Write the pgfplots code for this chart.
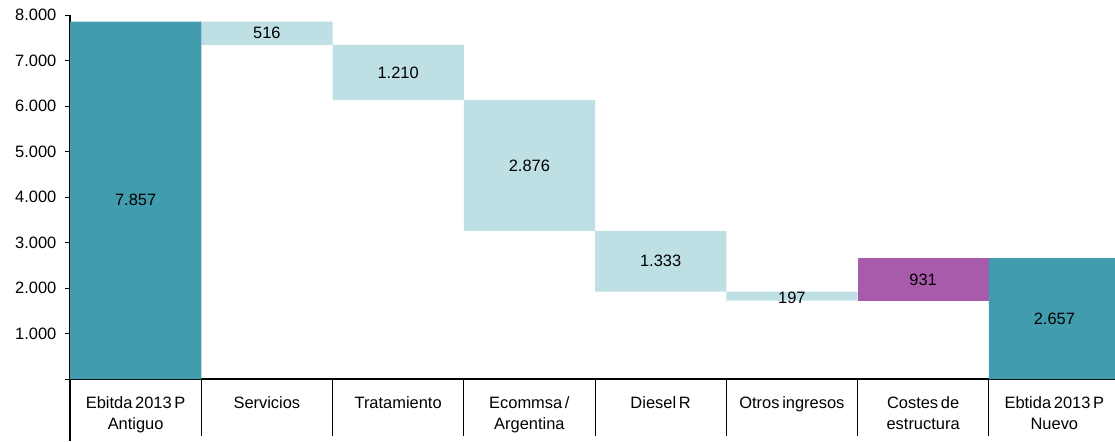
\documentclass[border=0pt]{standalone}
\usepackage{fontspec}
\setmainfont[WordSpace=0.6]{Liberation Sans}
\usepackage{pgfplots}
\pgfplotsset{compat=1.18}
\definecolor{dark}{HTML}{419DAE}
\definecolor{light}{HTML}{BEDFE3}
\definecolor{purp}{HTML}{A85BAA}
\begin{document}
\fontsize{16.5}{20}\selectfont
\begin{tikzpicture}
\begin{axis}[
  scale only axis, width=1050bp, height=364bp,
  xmin=0, xmax=8, ymin=0, ymax=8000,
  ybar stacked, bar width=1,
  axis lines*=left,
  axis line style={line width=1.3bp, black},
  clip=false,
  ytick={0,1000,...,8000},
  yticklabels={,1.000,2.000,3.000,4.000,5.000,6.000,7.000,8.000},
  tick align=outside,
  major tick length=5bp,
  ytick style={line width=0.9bp, black},
  yticklabel style={font=\fontsize{16.5}{20}\selectfont, xshift=-3bp},
  xtick={0.5,1.5,...,7.5},
  xtick style={draw=none},
  xticklabels={{Ebitda 2013 P\\Antiguo},Servicios,Tratamiento,{Ecommsa /\\Argentina},Diesel R,Otros ingresos,{Costes de\\estructura},{Ebtida 2013 P\\Nuevo}},
  xticklabel style={align=center, anchor=north, yshift=-7bp, font=\fontsize{16.5}{21}\selectfont},
]
\addplot[fill=none, draw=none] coordinates {(0.5,0)(1.5,7341)(2.5,6131)(3.5,3255)(4.5,1922)(5.5,1725)(6.5,1725)(7.5,0)};
\addplot[fill=dark, draw=none] coordinates {(0.5,7857)(1.5,0)(2.5,0)(3.5,0)(4.5,0)(5.5,0)(6.5,0)(7.5,2657)};
\addplot[fill=light, draw=none] coordinates {(0.5,0)(1.5,516)(2.5,1210)(3.5,2876)(4.5,1333)(5.5,197)(6.5,0)(7.5,0)};
\addplot[fill=purp, draw=none] coordinates {(0.5,0)(1.5,0)(2.5,0)(3.5,0)(4.5,0)(5.5,0)(6.5,931)(7.5,0)};
\coordinate (L1) at (axis cs:0.5,3928);
\coordinate (L2) at (axis cs:1.5,7599);
\coordinate (L3) at (axis cs:2.5,6736);
\coordinate (L4) at (axis cs:3.5,4693);
\coordinate (L5) at (axis cs:4.5,2588);
\coordinate (L6) at (axis cs:5.5,1780);
\coordinate (L7) at (axis cs:6.5,2190);
\coordinate (L8) at (axis cs:7.5,1328);
\pgfplotsinvokeforeach{1,...,7}{\draw[line width=0.9bp] (axis cs:#1,0) -- ++(0,-57bp);}
\draw[line width=1.3bp] (axis cs:0,0) -- ++(0,-62bp);
\coordinate (O) at (rel axis cs:0,0);
\coordinate (T) at (rel axis cs:1,1);
\end{axis}
\node at (L1) {7.857};
\node at (L2) {516};
\node at (L3) {1.210};
\node at (L4) {2.876};
\node at (L5) {1.333};
\node at (L6) {197};
\node at (L7) {931};
\node at (L8) {2.657};
\pgfresetboundingbox
\path[use as bounding box] ([shift={(-70bp,-62bp)}]O) rectangle ([shift={(-5bp,15bp)}]T);
\end{tikzpicture}
\end{document}
